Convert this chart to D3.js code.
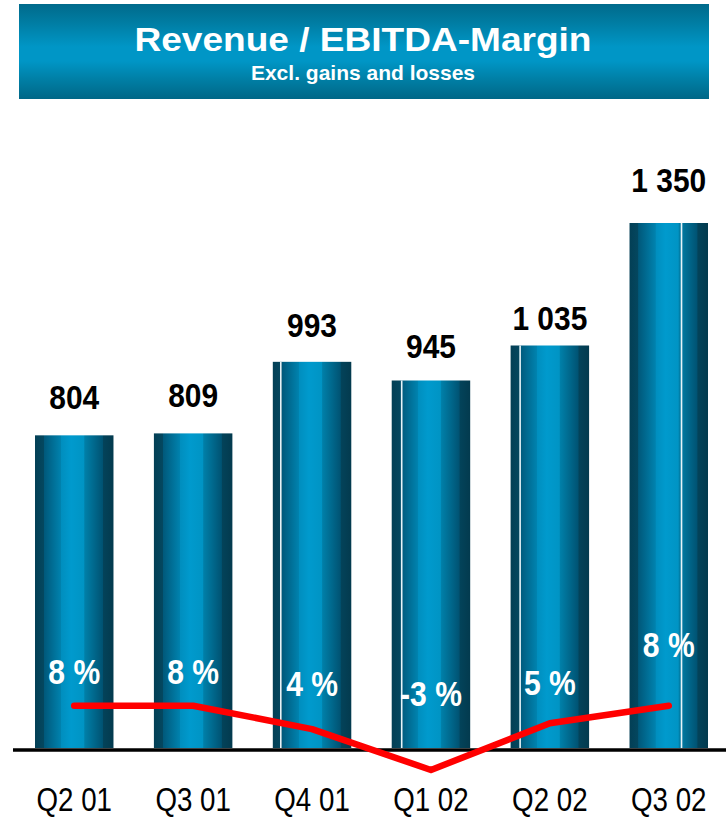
<!DOCTYPE html>
<html>
<head>
<meta charset="utf-8">
<script src="https://cdn.jsdelivr.net/npm/d3@7"></script>
<style>
  html, body { margin: 0; padding: 0; background: #fff; }
  svg { display: block; font-family: "Liberation Sans", Arial, sans-serif; }
</style>
</head>
<body>
<svg id="chart" width="726" height="818"></svg>
<script>
// Quarterly revenue (bars) and EBITDA margin in % (red line)
const quarters = ["Q2 01", "Q3 01", "Q4 01", "Q1 02", "Q2 02", "Q3 02"];
const revenue = [804, 809, 993, 945, 1035, 1350];
const ebitdaMargin = [8, 8, 4, -3, 5, 8];

// label placement tweaks (px above the bar top / above the line point)
const revenueLabelLift = [26, 26, 25, 23, 16, 31];
const marginLabelLift = [22, 22, 33, 64, 28, 49];
// thin light seam inside some of the cylinders (px from the bar's left edge)
const seamOffset = [null, null, 8, 10, 9.5, 52];

const fmt = v => d3.format(",")(v).replace(/,/g, " ");

const svg = d3.select("#chart");
const defs = svg.append("defs");

// Title banner gradient
const bannerGrad = defs.append("linearGradient")
  .attr("id", "bannerGrad").attr("x1", 0).attr("y1", 0).attr("x2", 0).attr("y2", 1);
[[0, "#006a8b"], [0.2, "#007da3"], [0.45, "#0096c6"], [0.6, "#0096c6"], [0.8, "#007ea4"], [1, "#006787"]]
  .forEach(([o, c]) => bannerGrad.append("stop").attr("offset", o).attr("stop-color", c));

// Cylinder shading for the bars
const barGrad = defs.append("linearGradient")
  .attr("id", "barGrad").attr("x1", 0).attr("y1", 0).attr("x2", 1).attr("y2", 0);
[[0, "#033f55"], [0.11, "#04475f"], [0.115, "#00587a"], [0.33, "#0082ae"], [0.335, "#008ebe"],
 [0.46, "#009acd"], [0.62, "#0094c4"], [0.635, "#007fa8"], [0.86, "#005373"], [0.87, "#03435a"], [1, "#033a4e"]]
  .forEach(([o, c]) => barGrad.append("stop").attr("offset", o).attr("stop-color", c));

// Banner
svg.append("rect")
  .attr("x", 19).attr("y", 4).attr("width", 690).attr("height", 95)
  .attr("fill", "url(#bannerGrad)");
svg.append("text")
  .attr("x", 363).attr("y", 51)
  .attr("text-anchor", "middle")
  .attr("fill", "#fff").attr("font-weight", "bold").attr("font-size", 34)
  .attr("textLength", 457).attr("lengthAdjust", "spacingAndGlyphs")
  .text("Revenue / EBITDA-Margin");
svg.append("text")
  .attr("x", 363).attr("y", 80)
  .attr("text-anchor", "middle")
  .attr("fill", "#fff").attr("font-weight", "bold").attr("font-size", 21)
  .text("Excl. gains and losses");

// Scales
const x = d3.scaleBand().domain(quarters).range([35, 708]).paddingInner(0.34).paddingOuter(0);
const y = d3.scaleLinear().domain([0, 1350]).range([748, 223]);
const yM = d3.scaleLinear().domain([-3, 8]).range([770, 705.7]);

const rows = quarters.map((q, i) => ({
  q, rev: revenue[i], m: ebitdaMargin[i],
  lift: revenueLabelLift[i], mLift: marginLabelLift[i], seam: seamOffset[i]
}));

// Bars
svg.append("g").selectAll("rect")
  .data(rows).join("rect")
  .attr("x", d => x(d.q))
  .attr("y", d => y(d.rev))
  .attr("width", x.bandwidth())
  .attr("height", d => y(0) - y(d.rev))
  .attr("fill", "url(#barGrad)");

// Seams
svg.append("g").selectAll("line")
  .data(rows.filter(d => d.seam !== null)).join("line")
  .attr("x1", d => x(d.q) + d.seam).attr("x2", d => x(d.q) + d.seam)
  .attr("y1", d => y(d.rev)).attr("y2", y(0))
  .attr("stroke", "#e8f4f8").attr("stroke-width", 1.6);

// Axis baseline with category labels
const xAxis = svg.append("g")
  .attr("transform", `translate(0,${y(0)})`)
  .call(d3.axisBottom(x).tickSize(0).tickPadding(0));
xAxis.select(".domain").remove();
xAxis.selectAll(".tick text").remove();
svg.append("line")
  .attr("x1", 13).attr("x2", 726)
  .attr("y1", 750).attr("y2", 750)
  .attr("stroke", "#000").attr("stroke-width", 3.5);

xAxis.selectAll(".tick").append("text")
  .attr("transform", `translate(0,${811 - y(0)}) scale(0.84,1)`)
  .attr("text-anchor", "middle")
  .attr("fill", "#000").attr("font-size", 33)
  .text(d => d);

// Revenue labels
svg.append("g").selectAll("text")
  .data(rows).join("text")
  .attr("transform", d => `translate(${x(d.q) + x.bandwidth() / 2},${y(d.rev) - d.lift}) scale(0.88,1)`)
  .attr("text-anchor", "middle")
  .attr("fill", "#000").attr("font-weight", "bold").attr("font-size", 34)
  .text(d => fmt(d.rev));

// Margin line
const line = d3.line()
  .x(d => x(d.q) + x.bandwidth() / 2)
  .y(d => yM(d.m));
svg.append("path")
  .datum(rows)
  .attr("d", line)
  .attr("fill", "none")
  .attr("stroke", "#ff0000")
  .attr("stroke-width", 6.5)
  .attr("stroke-linecap", "round")
  .attr("stroke-linejoin", "round");

// Margin labels
svg.append("g").selectAll("text")
  .data(rows).join("text")
  .attr("transform", d => `translate(${x(d.q) + x.bandwidth() / 2},${yM(d.m) - d.mLift}) scale(0.86,1)`)
  .attr("text-anchor", "middle")
  .attr("fill", "#fff").attr("font-weight", "bold").attr("font-size", 35)
  .text(d => `${d.m} %`);
</script>
</body>
</html>
